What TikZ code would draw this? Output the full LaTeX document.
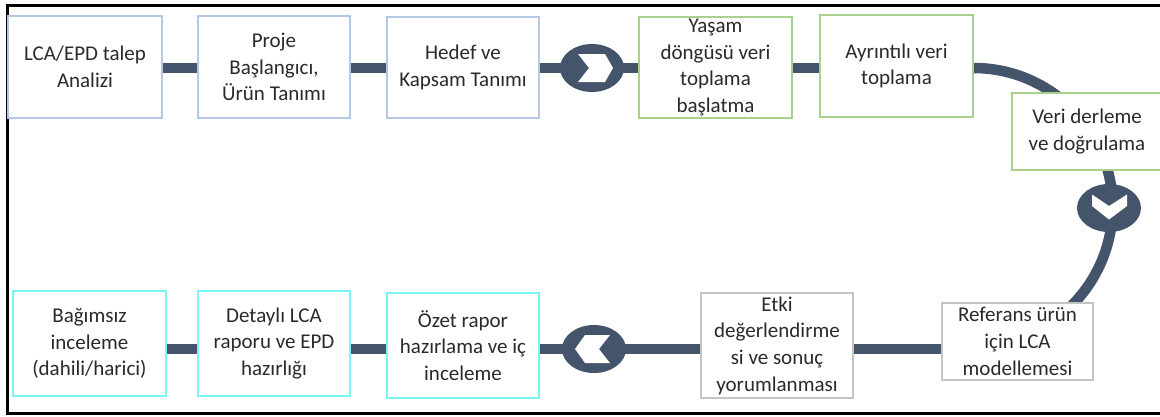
\documentclass[tikz,border=0pt]{standalone}
\usepackage{fontspec}
\setmainfont{Carlito}
\usetikzlibrary{shapes.geometric,backgrounds}
\definecolor{slate}{HTML}{44546A}
\definecolor{ink}{HTML}{2A2A2A}
\definecolor{bluebd}{HTML}{B4C7E7}
\definecolor{greenbd}{HTML}{A9D18E}
\definecolor{graybd}{HTML}{C4C4C4}
\definecolor{cyanbd}{HTML}{78F5F5}
\begin{document}
\begin{tikzpicture}[x=1pt,y=1pt,
  box/.style={draw, fill=white, line width=1.2pt, inner sep=0pt, align=center,
    text=ink, font=\fontsize{21}{26.7}\selectfont},
  conn/.style={draw=slate, line width=10.5pt},
  hub/.style={ellipse, fill=slate, minimum width=64, minimum height=48, inner sep=0pt},
  mark white/.style={fill=white}]
\useasboundingbox (0,0) rectangle (1160,-416);

% outer frame (open on the right)
\draw[line width=3pt] (1170,-5) -- (7,-5) -- (7,-413.5) -- (1170,-413.5);

% top row
\node[box, draw=bluebd, minimum width=154, minimum height=102] (b1) at (85,-67) {LCA/EPD talep\\Analizi};
\node[box, draw=bluebd, minimum width=152, minimum height=102] (b2) at (274,-67) {Proje\\Başlangıcı,\\Ürün Tanımı};
\node[box, draw=bluebd, minimum width=152, minimum height=101] (b3) at (463,-67.5) {Hedef ve\\Kapsam Tanımı};
\node[box, draw=greenbd, minimum width=153, minimum height=101] (b4) at (715.5,-67.5) {Yaşam\\döngüsü veri\\toplama\\başlatma};
\node[box, draw=greenbd, minimum width=153, minimum height=102] (b5) at (896.5,-66) {Ayrıntılı veri\\toplama};
\node[box, draw=greenbd, minimum width=150, minimum height=77] (b6) at (1087,-131.5) {Veri derleme\\ve doğrulama};

% bottom row
\node[box, draw=graybd, minimum width=151, minimum height=77] (b7) at (1017.5,-341.5) {Referans ürün\\için LCA\\modellemesi};
\node[box, draw=graybd, minimum width=152, minimum height=105] (b8) at (777,-345.5) {Etki\\değerlendirme\\si ve sonuç\\yorumlanması};
\node[box, draw=cyanbd, minimum width=152, minimum height=105] (b9) at (463,-345.5) {Özet rapor\\hazırlama ve iç\\inceleme};
\node[box, draw=cyanbd, minimum width=152, minimum height=105] (b10) at (274,-343.5) {Detaylı LCA\\raporu ve EPD\\hazırlığı};
\node[box, draw=cyanbd, minimum width=153, minimum height=105] (b11) at (89.5,-343.5) {Bağımsız\\inceleme\\(dahili/harici)};

% direction hubs
\node[hub] (e1) at (592,-68) {};
\node[hub] (e2) at (594,-349) {};
\node[hub] (e3) at (1109,-208) {};

% chevrons inside the hubs
\fill[mark white, shift={(e1.center)}] (-14,14) -- (13,14) -- (21,0) -- (13,-14) -- (-14,-14) -- (-3,0) -- cycle;
\fill[mark white, shift={(e2.center)}] (-19,0) -- (-9,14) -- (16,14) -- (5,0) -- (16,-14) -- (-9,-14) -- cycle;
\fill[mark white, shift={(e3.center)}] (-17,13.5) -- (0,2) -- (18,13.5) -- (18,2) -- (0,-11.5) -- (-17,2) -- cycle;

% connectors behind the boxes
\begin{scope}[on background layer]
  \draw[conn] (b1.center |- e1) -- (b5.center |- e1);
  \draw[conn] (b5.east |- e1) arc[start angle=90, end angle=-45, radius=139];
  \draw[conn] (b7.center |- e2) -- (b11.center |- e2);
\end{scope}
\end{tikzpicture}
\end{document}
